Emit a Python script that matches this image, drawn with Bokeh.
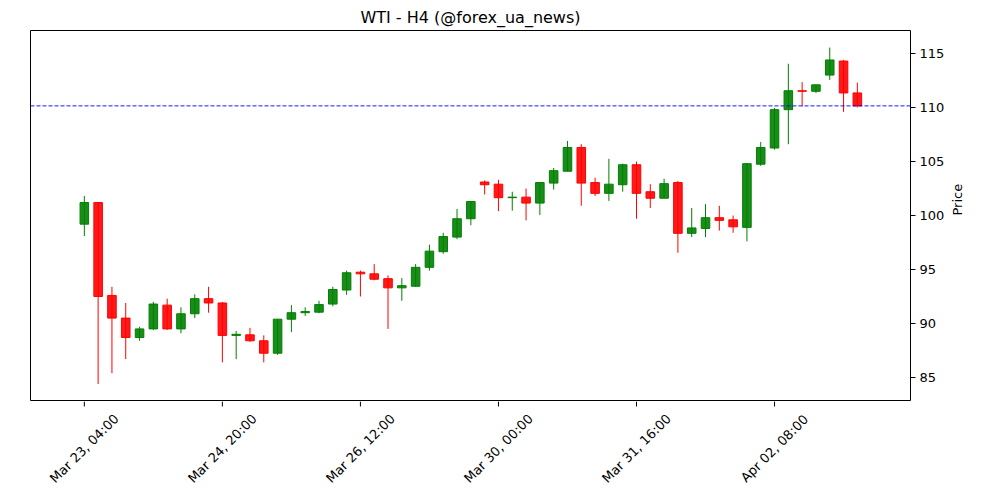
import math
from bokeh.plotting import figure
from bokeh.layouts import column
from bokeh.models import ColumnDataSource, FixedTicker, Span, Range1d
from bokeh.core.properties import value
from bokeh.embed import file_html
from bokeh.resources import INLINE

opens = [99.2, 101.2, 92.6, 90.5, 88.7, 89.5, 91.7, 89.5, 90.9, 92.3,
         91.9, 88.9, 88.95, 88.4, 87.25, 90.4, 91.0, 91.05, 91.8, 93.1,
         94.75, 94.6, 94.15, 93.3, 93.45, 95.2, 96.65, 98.0, 99.7, 103.1,
         102.9, 101.65, 101.7, 101.15, 103.0, 104.1, 106.3, 103.05, 102.05, 102.85,
         104.7, 102.2, 101.6, 103.05, 98.35, 98.8, 99.8, 99.6, 98.9, 104.75,
         106.25, 109.8, 111.55, 111.5, 113.0, 114.3, 111.35]
highs = [101.8, 101.2, 93.4, 91.9, 89.7, 92.0, 92.3, 91.5, 92.7, 93.4,
         92.0, 89.3, 89.6, 88.9, 90.4, 91.7, 91.5, 92.1, 93.4, 94.9,
         94.9, 95.5, 94.45, 94.2, 95.5, 97.3, 98.4, 100.6, 101.3, 103.25,
         103.3, 102.2, 102.5, 103.1, 104.4, 106.9, 106.6, 103.5, 105.25, 104.8,
         105.0, 102.9, 103.4, 103.2, 100.7, 101.05, 100.9, 100.0, 104.85, 106.8,
         109.95, 114.05, 112.35, 112.1, 115.55, 114.4, 112.3]
lows = [98.1, 84.4, 85.4, 86.7, 88.4, 89.4, 89.4, 89.1, 90.5, 91.0,
        86.4, 86.7, 88.3, 86.4, 87.1, 89.2, 90.7, 90.95, 91.6, 92.65,
        92.5, 94.0, 89.5, 92.1, 93.4, 94.9, 96.45, 97.8, 99.1, 101.95,
        100.4, 100.45, 99.55, 100.05, 102.4, 104.1, 100.9, 101.8, 101.35, 102.2,
        99.7, 100.7, 101.6, 96.55, 98.0, 98.0, 98.6, 98.4, 97.6, 104.6,
        106.1, 106.6, 110.1, 111.35, 112.55, 109.6, 110.0]
closes = [101.2, 92.5, 90.5, 88.7, 89.5, 91.8, 89.5, 90.9, 92.3, 91.9,
          88.9, 89.0, 88.4, 87.25, 90.4, 91.0, 91.1, 91.75, 93.15, 94.7,
          94.6, 94.1, 93.3, 93.5, 95.2, 96.7, 98.05, 99.7, 101.3, 102.85,
          101.65, 101.7, 101.15, 103.05, 104.15, 106.3, 103.0, 102.05, 102.9, 104.7,
          102.05, 101.6, 102.95, 98.35, 98.85, 99.8, 99.55, 98.95, 104.8, 106.3,
          109.8, 111.55, 111.5, 112.1, 114.4, 111.35, 110.15]
tick_positions = [0, 10, 20, 30, 40, 50]
tick_labels = ["Mar 23, 04:00", "Mar 24, 20:00", "Mar 26, 12:00",
               "Mar 30, 00:00", "Mar 31, 16:00", "Apr 02, 08:00"]
hline_value = 110.15

n = len(opens)
xs = list(range(n))
up = [c >= o for o, c in zip(opens, closes)]
fills = ["#008000" if u else "#ff0000" for u in up]
src = ColumnDataSource(dict(
    x=xs, top=[max(o, c) for o, c in zip(opens, closes)],
    bottom=[min(o, c) for o, c in zip(opens, closes)],
    high=highs, low=lows, color=fills))

xr = Range1d(-3.9, 59.85)
p = figure(width=1000, height=401, output_backend="svg", toolbar_location=None,
           x_axis_location=None, y_axis_location="right",
           title="WTI - H4 (@forex_ua_news)",
           x_range=xr, y_range=Range1d(82.87, 117.13),
           min_border_left=30, min_border_right=90, min_border_top=30,
           min_border_bottom=1)
p.background_fill_color = "white"
p.border_fill_color = "white"
p.outline_line_color = "black"
p.outline_line_width = 1
p.outline_line_alpha = 1
p.grid.visible = False

p.segment(x0="x", x1="x", y0="low", y1="high", source=src, line_color="color",
          line_width=1)
p.vbar(x="x", top="top", bottom="bottom", width=0.62, source=src,
       fill_color="color", fill_alpha=0.9, line_color="color", line_width=1)

p.add_layout(Span(location=hline_value, dimension="width", line_color="#0000ff",
                  line_alpha=0.9, line_dash="4 2", line_width=1))

p.title.align = "center"
p.title.text_font = "DejaVu Sans"
p.title.text_font_size = "16px"
p.title.text_font_style = "normal"
p.title.text_color = "black"
p.title.standoff = 7

p.yaxis.ticker = FixedTicker(ticks=[85, 90, 95, 100, 105, 110, 115])
p.yaxis.axis_label = "Price"
p.yaxis.axis_label_text_font_style = "normal"
p.yaxis.axis_label_text_font = "DejaVu Sans"
p.yaxis.axis_label_text_font_size = "13px"
p.yaxis.axis_label_text_color = "black"
p.yaxis.axis_label_standoff = 10
if hasattr(p.yaxis[0], "axis_label_orientation"):
    p.yaxis.axis_label_orientation = math.pi / 2
p.yaxis.major_label_text_font = "DejaVu Sans"
p.yaxis.major_label_text_color = "black"
p.yaxis.major_label_text_font_size = "13px"
p.yaxis.major_label_standoff = 4
p.yaxis.major_tick_in = 0
p.yaxis.major_tick_out = 5
p.yaxis.minor_tick_in = 0
p.yaxis.minor_tick_out = 0
p.yaxis.axis_line_color = None
p.yaxis.major_tick_line_color = "black"

# x tick marks and rotated tick labels drawn in a strip below, sharing the x range
p2 = figure(width=1000, height=99, output_backend="svg", toolbar_location=None,
            x_range=xr, y_range=Range1d(0, 99),
            min_border_left=30, min_border_right=90, min_border_top=0,
            min_border_bottom=0)
p2.axis.visible = False
p2.grid.visible = False
p2.outline_line_color = None
p2.background_fill_color = "white"
p2.border_fill_color = "white"
lab_src = ColumnDataSource(dict(x=tick_positions, y=[52] * len(tick_positions),
                                y0=[99] * len(tick_positions),
                                y1=[94] * len(tick_positions),
                                text=tick_labels))
p2.segment(x0="x", x1="x", y0="y0", y1="y1", source=lab_src, line_color="black",
           line_width=1)
p2.text(x="x", y="y", text="text", source=lab_src, angle=math.pi / 4,
        text_align="center", text_baseline="middle",
        text_font=value("DejaVu Sans"), text_font_size="13px", text_color="black")

layout = column(p, p2, spacing=0)
open("out.html", "w").write(file_html(layout, INLINE))
